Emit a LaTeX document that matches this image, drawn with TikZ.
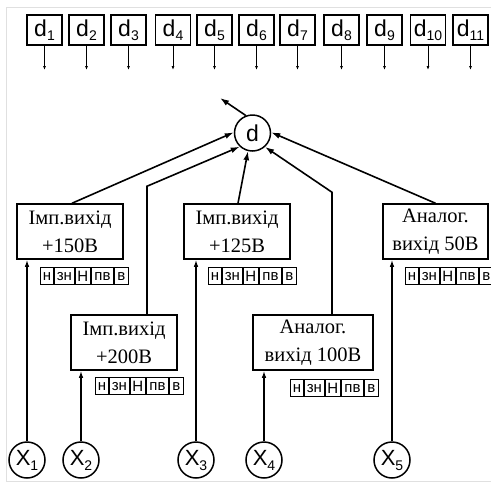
\documentclass[tikz,border=0pt]{standalone}
\usepackage{fontspec}
\setmainfont{Liberation Serif}
\newfontfamily\arialf{Liberation Sans}
\usetikzlibrary{arrows.meta,calc}
\newcommand\dlab[1]{{\arialf\fontsize{23}{23}\selectfont d\raisebox{-4pt}{\fontsize{14}{14}\selectfont #1}}}
\newcommand\xlab[1]{{\arialf\fontsize{22}{22}\selectfont X\raisebox{-5pt}{\fontsize{14}{14}\selectfont #1}}}
\newcommand\celltab[3]{%
 \node[cellbox,minimum width=12.7pt,anchor=north west] (#1a) at (#2,#3) {н};
 \node[cellbox,minimum width=19.7pt,anchor=north west] (#1b) at (#1a.north east) {зн};
 \node[cellbox,minimum width=15pt,anchor=north west] (#1c) at (#1b.north east) {Н};
 \node[cellbox,minimum width=21.7pt,anchor=north west] (#1d) at (#1c.north east) {пв};
 \node[cellbox,minimum width=13.7pt,anchor=north west] (#1e) at (#1d.north east) {в};
}
\begin{document}
\begin{tikzpicture}[x=1pt,y=-1pt,
  dbox/.style={draw,line width=1.3pt,minimum width=35pt,minimum height=30pt,inner sep=0pt},
  blk/.style={draw,line width=1.5pt,minimum height=55pt,inner sep=0pt,align=center,font=\fontsize{20.5}{28}\selectfont},
  cellbox/.style={draw,line width=1.2pt,minimum height=17pt,inner sep=0pt,font=\arialf\fontsize{15}{15}\selectfont},
  circ/.style={draw,circle,line width=1.5pt,minimum size=36pt,inner sep=0pt},
  thin/.style={line width=0.8pt,-{Latex[length=4pt,width=3pt]}},
  arr/.style={line width=1.6pt,-{Latex[length=9pt,width=6pt]}},
  xarr/.style={line width=1.3pt,-{Latex[length=7pt,width=4.5pt]}}]
\useasboundingbox (0,0) rectangle (491,483);
\draw[black!12,line width=0.8pt] (491,7) -- (6,7) -- (6,481) -- (491,481);
% top d boxes
\foreach \i/\xx in {1/44.5,2/86.5,3/128.5,4/173,5/214.5,6/256.5,7/297.5,8/341.5,9/384.5,10/428,11/470.5}{
  \node[dbox] (d\i) at (\xx,30) {\dlab{\i}};
  \coordinate (e\i) at (\xx,70);
  \draw[thin] (d\i.south) -- (e\i);
}
% central d
\node[circ] (d) at (252.5,133) {{\arialf\fontsize{23}{23}\selectfont d}};
\coordinate (out) at (220,98);
\draw[arr] (d.111) -- (out);
% blocks
\node[blk,minimum width=106pt] (b1) at (70,231.5) {Імп.вихід\\+150В};
\node[blk,minimum width=106pt] (b2) at (124,342.5) {Імп.вихід\\+200В};
\node[blk,minimum width=106pt] (b3) at (237,231.5) {Імп.вихід\\+125В};
\node[blk,minimum width=120pt] (b4) at (313,342.5) {Аналог.\\вихід 100В};
\node[blk,minimum width=105pt] (b5) at (435.5,231.5) {Аналог.\\вихід 50В};
% tables
\celltab{t1}{40}{267}
\celltab{t2}{95}{377}
\celltab{t3}{208}{267}
\celltab{t4}{290}{379}
\celltab{t5}{405}{267}
% connectors to d
\draw[arr] ($(b1.north)+(2,0)$) -- (d.178);
\draw[arr] ($(b2.north)+(23,0)$) -- ++(0,-128) -- (d.227);
\draw[arr] ($(b3.north)+(1,0)$) -- (d.256);
\draw[arr] ($(b4.north)+(19,0)$) -- ++(0,-122) -- (d.312);
\draw[arr] (b5.north) -- (d.2);
% inputs
\node[circ] (x1) at (27,460) {\xlab{1}};
\node[circ] (x2) at (81,460) {\xlab{2}};
\node[circ] (x3) at (196,460) {\xlab{3}};
\node[circ] (x4) at (264,460) {\xlab{4}};
\node[circ] (x5) at (392,460) {\xlab{5}};
\draw[xarr] (x1.north) -- (x1.north |- b1.south);
\draw[xarr] (x2.north) -- (x2.north |- b2.south);
\draw[xarr] (x3.north) -- (x3.north |- b3.south);
\draw[xarr] (x4.north) -- (x4.north |- b4.south);
\draw[xarr] (x5.north) -- (x5.north |- b5.south);
\end{tikzpicture}
\end{document}
